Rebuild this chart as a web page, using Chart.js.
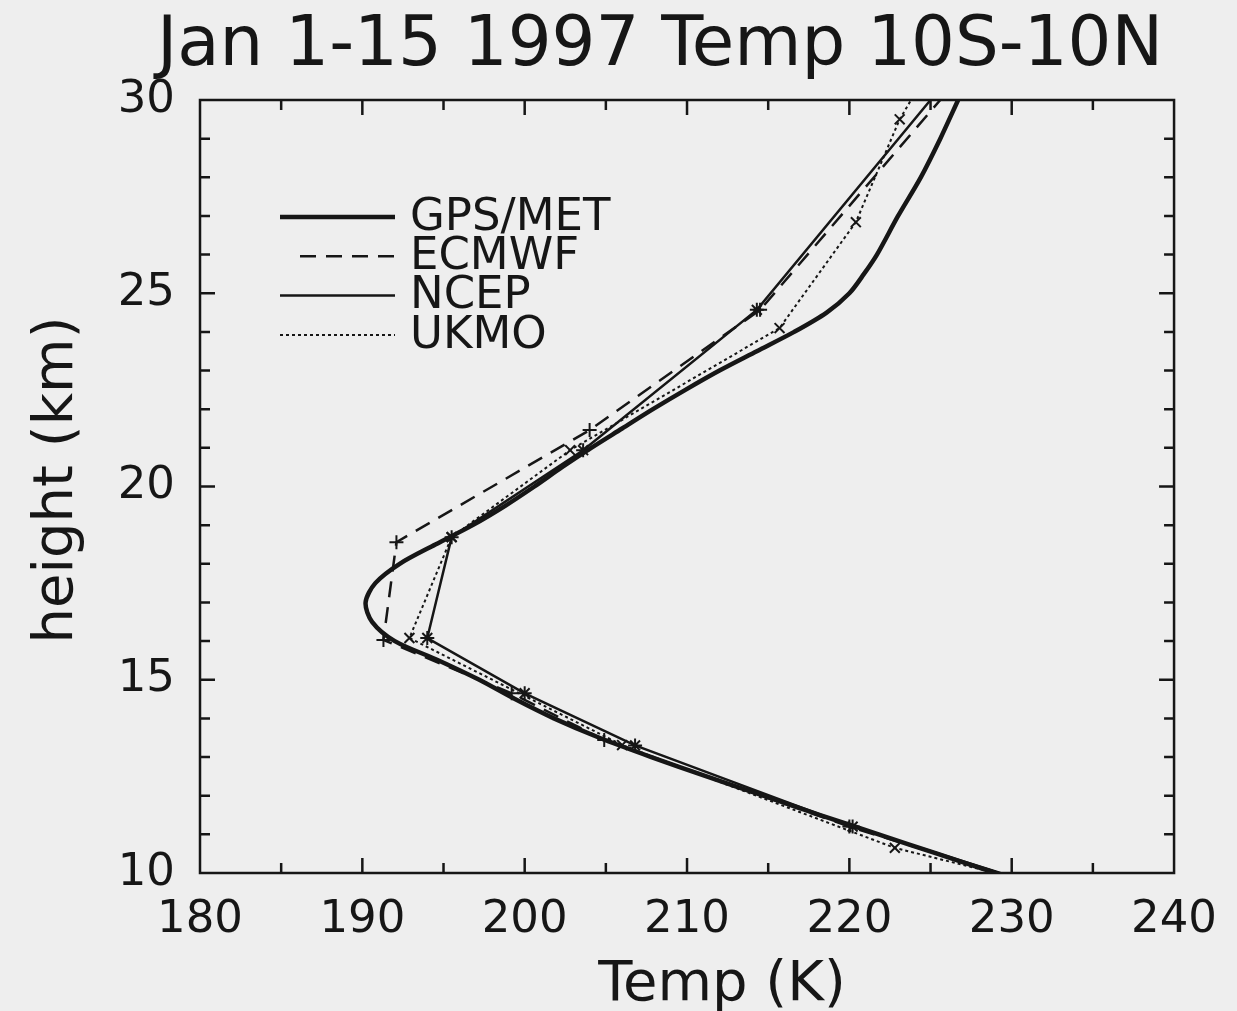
<!DOCTYPE html>
<html>
<head>
<meta charset="utf-8">
<title>Jan 1-15 1997 Temp 10S-10N</title>
<script src="https://cdn.jsdelivr.net/npm/chart.js@4.4.1/dist/chart.umd.min.js"></script>
<style>
  html, body { margin: 0; padding: 0; background: #eeeeee; }
  #wrap { width: 1237px; height: 1011px; }
</style>
</head>
<body>
<div id="wrap"><canvas id="tempChart" width="1237" height="1011"></canvas></div>
<script>
// ==========================================
// TEMPERATURE PROFILE 10S-10N (Chart.js)
// ==========================================

const chartTitle = 'Jan 1-15 1997 Temp 10S-10N';
const xTitle = 'Temp (K)';
const yTitle = 'height (km)';

// axis ticks
const tempTicks = [180, 190, 200, 210, 220, 230, 240];
const heightTicks = [10, 15, 20, 25, 30];

// GPS/MET retrieval (smooth profile)
const gpsHeight = [10, 10.5, 11, 11.5, 12, 12.5, 13, 13.5, 14, 14.5, 15, 15.5, 16, 16.5, 17, 17.5, 18, 18.5,
  19, 19.5, 20, 20.5, 21, 21.5, 22, 22.5, 23, 23.5, 24, 24.5, 25, 25.5, 26, 27, 28, 29, 30];
const gpsTemp = [229.0, 225.4, 221.8, 218.2, 214.7, 211.2, 207.8, 204.6, 201.8, 199.4, 197.2, 194.7, 192.0, 190.6,
  190.2, 190.8, 192.3, 194.5, 196.8, 198.8, 200.6, 202.3, 204.1, 206.0, 207.9, 209.9, 212.0, 214.3, 216.6, 218.6,
  220.0, 220.9, 221.7, 223.0, 224.4, 225.6, 226.7];

// analyses at pressure levels
const ecmwfHeight = [10, 11.2, 13.44, 14.65, 16.03, 18.56, 21.46, 24.57, 30];
const ecmwfTemp = [229.2, 220.0, 204.9, 199.2, 191.3, 192.1, 204.0, 214.5, 225.6];

const ncepHeight = [10, 11.2, 13.3, 14.65, 16.08, 18.69, 20.94, 24.57, 30];
const ncepTemp = [229.3, 220.2, 206.8, 200.0, 194.0, 195.5, 203.6, 214.3, 225.0];

const ukmoHeight = [10, 10.65, 13.31, 16.08, 18.69, 20.94, 24.1, 26.84, 29.5, 30];
const ukmoTemp = [229.0, 222.8, 206.0, 192.9, 195.5, 202.8, 215.7, 220.4, 223.1, 223.8];

function toPoints(temps, heights) {
  return temps.map((t, i) => ({ x: t, y: heights[i] }));
}

// no marker on the points that sit on the frame
function innerRadius(r) {
  return function (ctx) {
    const n = ctx.dataset.data.length;
    return ctx.dataIndex === 0 || ctx.dataIndex === n - 1 ? 0 : r;
  };
}

const INK = '#161616';
const FONT = '"DejaVu Sans", sans-serif';

const profileData = {
  datasets: [
    {
      label: 'GPS/MET',
      data: toPoints(gpsTemp, gpsHeight),
      borderColor: INK,
      borderWidth: 4.5,
      pointRadius: 0,
      showLine: true,
      tension: 0.3,
    },
    {
      label: 'ECMWF',
      data: toPoints(ecmwfTemp, ecmwfHeight),
      borderColor: INK,
      borderWidth: 2.5,
      borderDash: [16, 10],
      pointStyle: 'cross',
      pointRadius: innerRadius(7),
      pointBorderWidth: 2,
      pointBorderColor: INK,
      showLine: true,
    },
    {
      label: 'NCEP',
      data: toPoints(ncepTemp, ncepHeight),
      borderColor: INK,
      borderWidth: 2.5,
      pointStyle: 'star',
      pointRadius: innerRadius(7),
      pointBorderWidth: 2,
      pointBorderColor: INK,
      showLine: true,
    },
    {
      label: 'UKMO',
      data: toPoints(ukmoTemp, ukmoHeight),
      borderColor: INK,
      borderWidth: 2,
      borderDash: [3, 3],
      pointStyle: 'crossRot',
      pointRadius: innerRadius(7),
      pointBorderWidth: 2,
      pointBorderColor: INK,
      showLine: true,
    },
  ],
};

// box round the plot with inward ticks on all four sides
const frameTicks = {
  id: 'frameTicks',
  afterDatasetsDraw(chart) {
    const { ctx, chartArea: a, scales } = chart;
    const x = scales.x, y = scales.y;
    ctx.save();
    ctx.strokeStyle = INK;
    ctx.lineWidth = 2.5;
    ctx.strokeRect(a.left, a.top, a.right - a.left, a.bottom - a.top);
    ctx.beginPath();
    for (let t = x.min + 5; t < x.max; t += 5) {
      const px = x.getPixelForValue(t);
      const len = t % 10 === 0 ? 15 : 10;
      ctx.moveTo(px, a.bottom); ctx.lineTo(px, a.bottom - len);
      ctx.moveTo(px, a.top); ctx.lineTo(px, a.top + len);
    }
    for (let h = y.min + 1; h < y.max; h += 1) {
      const py = y.getPixelForValue(h);
      const len = h % 5 === 0 ? 15 : 10;
      ctx.moveTo(a.left, py); ctx.lineTo(a.left + len, py);
      ctx.moveTo(a.right, py); ctx.lineTo(a.right - len, py);
    }
    ctx.stroke();
    ctx.restore();
  },
};

// title and axis titles, placed as in the original figure
const titles = {
  id: 'titles',
  afterDraw(chart) {
    const { ctx } = chart;
    ctx.save();
    ctx.fillStyle = INK;
    ctx.textAlign = 'center';
    ctx.textBaseline = 'alphabetic';
    ctx.font = '69px ' + FONT;
    ctx.fillText(chartTitle, 660, 65);
    ctx.font = '56px ' + FONT;
    ctx.fillText(xTitle, 722, 1000);
    ctx.translate(72, 480);
    ctx.rotate(-Math.PI / 2);
    ctx.fillText(yTitle, 0, 0);
    ctx.restore();
  },
};

// legend inside the plot, top left
const insideLegend = {
  id: 'insideLegend',
  afterDraw(chart) {
    const { ctx } = chart;
    const x0 = 280, x1 = 395, textX = 410, top = 217, step = 39.3;
    ctx.save();
    ctx.font = '45px ' + FONT;
    ctx.textBaseline = 'middle';
    ctx.fillStyle = INK;
    chart.data.datasets.forEach((ds, i) => {
      const yy = top + i * step;
      ctx.strokeStyle = INK;
      ctx.lineWidth = ds.borderWidth;
      ctx.setLineDash(ds.borderDash || []);
      ctx.beginPath();
      ctx.moveTo(ds.borderDash && ds.borderDash[0] > 10 ? x0 + 20 : x0, yy);
      ctx.lineTo(x1, yy);
      ctx.stroke();
      ctx.setLineDash([]);
      ctx.fillText(ds.label, textX, yy + 1);
    });
    ctx.restore();
  },
};

Chart.defaults.font.family = FONT;
Chart.defaults.color = INK;

const profileConfig = {
  type: 'scatter',
  data: profileData,
  options: {
    responsive: false,
    animation: false,
    layout: {
      padding: { left: 0, right: 62, top: 100, bottom: 0 },
    },
    plugins: {
      legend: { display: false },
      tooltip: { enabled: false },
      title: { display: false },
    },
    scales: {
      x: {
        type: 'linear',
        min: 180,
        max: 240,
        grid: { display: false, drawTicks: false },
        border: { display: false },
        afterBuildTicks: function (scale) {
          scale.ticks = tempTicks.map((v) => ({ value: v }));
        },
        afterFit: function (scale) {
          scale.height = 138;
        },
        ticks: {
          padding: 20,
          maxRotation: 0,
          font: { size: 45 },
          color: INK,
        },
      },
      y: {
        type: 'linear',
        min: 10,
        max: 30,
        grid: { display: false, drawTicks: false },
        border: { display: false },
        afterBuildTicks: function (scale) {
          scale.ticks = heightTicks.map((v) => ({ value: v }));
        },
        afterFit: function (scale) {
          scale.width = 200;
        },
        ticks: {
          padding: 25,
          font: { size: 45 },
          color: INK,
        },
      },
    },
  },
  plugins: [frameTicks, titles, insideLegend],
};

const profileChart = new Chart(document.getElementById('tempChart'), profileConfig);
</script>
</body>
</html>
